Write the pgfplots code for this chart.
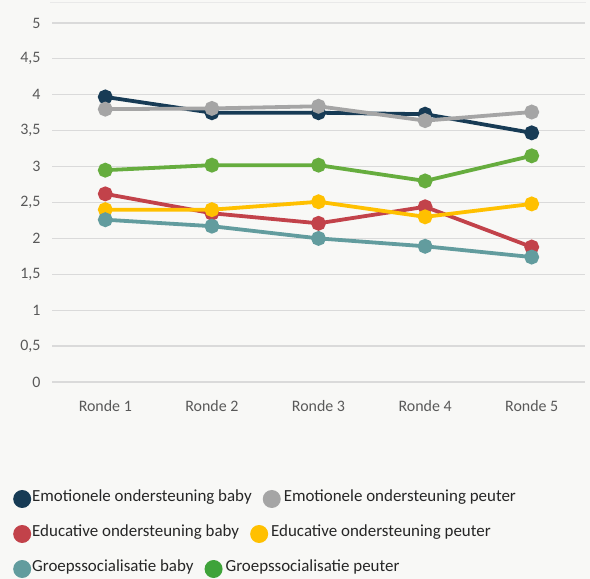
\documentclass[border=0pt]{standalone}
\usepackage{pgfplots}
\pgfplotsset{compat=1.18}
\usepackage{fontspec}
\setmainfont{Carlito}
\definecolor{bg}{HTML}{F8F8F6}
\definecolor{cnavy}{HTML}{173B55}
\definecolor{cgray}{HTML}{A5A5A5}
\definecolor{cred}{HTML}{C2424A}
\definecolor{cyel}{HTML}{FFC000}
\definecolor{cteal}{HTML}{629C9E}
\definecolor{cgreen}{HTML}{66AD3E}
\definecolor{lgreen}{HTML}{3FA33A}
\definecolor{gridc}{HTML}{DADADA}
\definecolor{tickc}{HTML}{595959}
\definecolor{legc}{HTML}{262626}
\newcommand{\legdot}[1]{\tikz[baseline=-0.35ex]\fill[#1] (0,0) circle (9bp);}
\begin{document}
\begin{tikzpicture}[x=1bp,y=1bp]
\fill[bg] (0,0) rectangle (590,579);
\draw[gridc!60,line width=0.8bp] (50,577) -- (586,577);
\begin{axis}[
  at={(52bp,197bp)}, anchor=south west,
  scale only axis, width=533bp, height=359bp,
  xmin=0.5, xmax=5.5, ymin=0, ymax=5,
  axis line style={draw=none},
  ytick={0,0.5,...,5}, xtick={1,2,3,4,5},
  xticklabels={Ronde 1,Ronde 2,Ronde 3,Ronde 4,Ronde 5},
  ymajorgrids, major grid style={gridc,line width=1.2bp},
  tick style={draw=none},
  /pgf/number format/assume math mode=true,
  /pgf/number format/use comma,
  /pgf/number format/fixed,
  yticklabel style={font=\fontsize{16}{18}\selectfont, text=tickc, xshift=-8bp},
  xticklabel style={font=\fontsize{16}{18}\selectfont, text=tickc, yshift=-15bp},
  every axis plot/.append style={line width=3.8bp, mark=*, mark size=5.5bp, mark options={solid}},
  clip=false,
]
\addplot[cnavy] coordinates {(1,3.97) (2,3.75) (3,3.75) (4,3.73) (5,3.47)};
\addplot[cgray] coordinates {(1,3.80) (2,3.81) (3,3.84) (4,3.64) (5,3.76)};
\addplot[cred] coordinates {(1,2.62) (2,2.35) (3,2.21) (4,2.44) (5,1.88)};
\addplot[cyel] coordinates {(1,2.40) (2,2.40) (3,2.51) (4,2.30) (5,2.48)};
\addplot[cteal] coordinates {(1,2.26) (2,2.17) (3,2.00) (4,1.89) (5,1.74)};
\addplot[cgreen] coordinates {(1,2.95) (2,3.02) (3,3.02) (4,2.80) (5,3.15)};
\end{axis}
\begin{scope}[every node/.style={anchor=west, inner sep=0pt, text=legc, font=\fontsize{17}{18}\selectfont}]
\node at (13,80) {\legdot{cnavy}\hspace{1bp}Emotionele ondersteuning baby\hspace{11bp}\legdot{cgray}\hspace{3bp}Emotionele ondersteuning peuter};
\node at (13,45) {\legdot{cred}\hspace{1bp}Educative ondersteuning baby\hspace{11bp}\legdot{cyel}\hspace{3bp}Educative ondersteuning peuter};
\node at (13,10) {\legdot{cteal}\hspace{1bp}Groepssocialisatie baby\hspace{11bp}\legdot{lgreen}\hspace{3bp}Groepssocialisatie peuter};
\end{scope}
\end{tikzpicture}
\end{document}
